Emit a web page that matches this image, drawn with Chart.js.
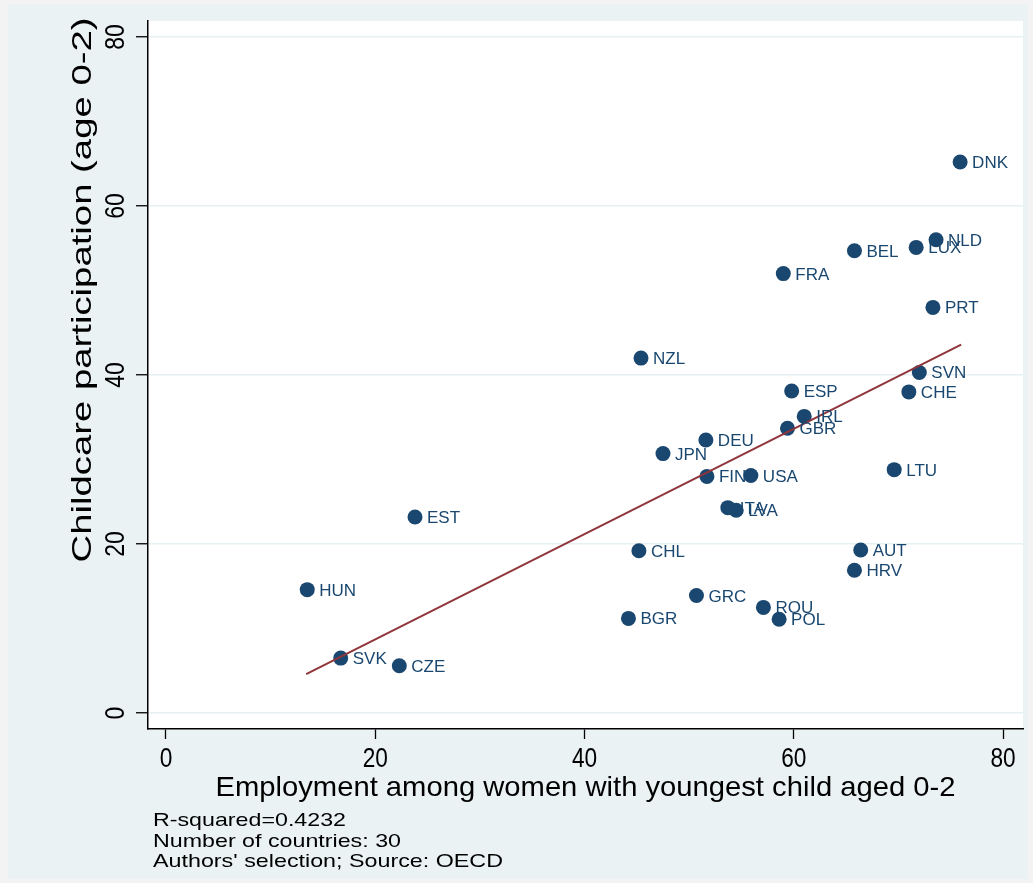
<!DOCTYPE html>
<html>
<head>
<meta charset="utf-8">
<title>Childcare participation vs employment</title>
<script src="https://cdn.jsdelivr.net/npm/chart.js@4.4.1/dist/chart.umd.min.js"></script>
<style>
  html, body { margin: 0; padding: 0; background: #F4F3F3; }
  canvas { display: block; }
</style>
</head>
<body>
<canvas id="scatterChart" width="1033" height="883"></canvas>
<script>
// ---- data ----
const countries = ['DNK', 'NLD', 'LUX', 'BEL', 'FRA', 'PRT', 'NZL', 'SVN', 'ESP', 'CHE',
  'IRL', 'GBR', 'DEU', 'JPN', 'FIN', 'USA', 'LTU', 'ITA', 'LVA', 'EST',
  'CHL', 'AUT', 'HRV', 'HUN', 'GRC', 'ROU', 'BGR', 'POL', 'SVK', 'CZE'];
const employment = [75.9, 73.6, 71.7, 65.8, 59.0, 73.3, 45.4, 72.0, 59.8, 71.0,
  61.0, 59.4, 51.6, 47.5, 51.7, 55.9, 69.6, 53.7, 54.5, 23.8,
  45.2, 66.4, 65.8, 13.5, 50.7, 57.1, 44.2, 58.6, 16.7, 22.3];
const childcare = [65.2, 56.0, 55.1, 54.7, 52.0, 48.0, 42.0, 40.3, 38.1, 38.0,
  35.1, 33.7, 32.3, 30.7, 28.0, 28.1, 28.8, 24.3, 24.0, 23.2,
  19.2, 19.3, 16.9, 14.6, 13.9, 12.5, 11.2, 11.1, 6.5, 5.6];

// fitted line end points
const fitX = [13.4, 76.0];
const fitY = [4.6, 43.6];

const xTicks = [0, 20, 40, 60, 80];
const yTicks = [0, 20, 40, 60, 80];

const xTitle = 'Employment among women with youngest child aged 0-2';
const yTitle = 'Childcare participation (age 0-2)';
const notes = ['R-squared=0.4232', 'Number of countries: 30', "Authors' selection; Source: OECD"];

const NAVY = '#1A476F';
const MAROON = '#90353B';
const FONT = '"Liberation Sans", Arial, sans-serif';

// draw text squeezed / stretched to a given width
function fitText(ctx, str, x, y, size, width, align) {
  ctx.save();
  ctx.font = size + 'px ' + FONT;
  const w = ctx.measureText(str).width;
  const k = width / w;
  ctx.translate(x, y);
  ctx.scale(k, 1);
  ctx.textAlign = align || 'left';
  ctx.fillText(str, 0, 0);
  ctx.restore();
}

function scaledText(ctx, str, x, y, size, k, align) {
  ctx.save();
  ctx.font = size + 'px ' + FONT;
  ctx.translate(x, y);
  ctx.scale(k, 1);
  ctx.textAlign = align || 'left';
  ctx.fillText(str, 0, 0);
  ctx.restore();
}

// backgrounds: outer frame, graph region, white plot region
const backgroundPlugin = {
  id: 'stataBackground',
  beforeDraw(chart) {
    const ctx = chart.ctx;
    const a = chart.chartArea;
    ctx.save();
    ctx.fillStyle = '#F4F3F3';
    ctx.fillRect(0, 0, chart.width, chart.height);
    ctx.fillStyle = '#EAF2F3';
    ctx.fillRect(8, 4, 1020, 875);
    ctx.fillStyle = '#FFFFFF';
    ctx.fillRect(a.left, a.top, a.right - a.left, a.bottom - a.top);
    ctx.restore();
  }
};

// country labels, tick labels, titles and notes
const textPlugin = {
  id: 'stataText',
  afterDatasetsDraw(chart) {
    const ctx = chart.ctx;
    const meta = chart.getDatasetMeta(1);
    ctx.save();
    ctx.fillStyle = NAVY;
    ctx.font = '17px ' + FONT;
    ctx.textBaseline = 'alphabetic';
    meta.data.forEach((pt, i) => {
      ctx.fillText(countries[i], pt.x + 12, pt.y + 6);
    });
    ctx.restore();
  },
  afterDraw(chart) {
    const ctx = chart.ctx;
    const xs = chart.scales.x;
    const ys = chart.scales.y;
    ctx.save();
    ctx.fillStyle = '#000000';
    ctx.textBaseline = 'alphabetic';

    // x tick labels
    xTicks.forEach(v => {
      scaledText(ctx, String(v), xs.getPixelForValue(v), 767, 27, 0.84, 'center');
    });

    // y tick labels, rotated to read upwards
    yTicks.forEach(v => {
      ctx.save();
      ctx.translate(124, ys.getPixelForValue(v));
      ctx.rotate(-Math.PI / 2);
      scaledText(ctx, String(v), 0, 0, 28, 0.82, 'center');
      ctx.restore();
    });

    // axis titles
    const midX = (chart.chartArea.left + chart.chartArea.right) / 2;
    fitText(ctx, xTitle, midX, 796, 28, 740, 'center');

    ctx.save();
    ctx.translate(91, 290);
    ctx.rotate(-Math.PI / 2);
    fitText(ctx, yTitle, 0, 0, 28, 545, 'center');
    ctx.restore();

    // notes
    const noteWidths = [193, 248, 350];
    notes.forEach((n, i) => {
      fitText(ctx, n, 153, 826 + i * 20.5, 19, noteWidths[i], 'left');
    });
    ctx.restore();
  }
};

const ctx = document.getElementById('scatterChart');

new Chart(ctx, {
  type: 'scatter',
  data: {
    datasets: [
      {
        type: 'line',
        label: 'Fitted values',
        data: fitX.map((x, i) => ({ x: x, y: fitY[i] })),
        borderColor: MAROON,
        borderWidth: 2,
        pointRadius: 0,
        fill: false,
        order: 0
      },
      {
        label: 'Countries',
        data: employment.map((x, i) => ({ x: x, y: childcare[i] })),
        backgroundColor: NAVY,
        borderColor: NAVY,
        borderWidth: 0,
        pointRadius: 7.5,
        pointHoverRadius: 7.5,
        order: 1
      }
    ]
  },
  options: {
    responsive: false,
    animation: false,
    events: [],
    layout: {
      padding: { left: 8, top: 21, right: 10, bottom: 0 }
    },
    plugins: {
      legend: { display: false },
      tooltip: { enabled: false }
    },
    scales: {
      x: {
        type: 'linear',
        min: -1.72,
        max: 81.91,
        afterBuildTicks: s => { s.ticks = xTicks.map(v => ({ value: v })); },
        afterFit: s => { s.height = 154; },
        ticks: { display: false },
        grid: {
          drawOnChartArea: false,
          drawTicks: true,
          tickLength: 10,
          tickColor: '#000000',
          tickWidth: 1.3
        },
        border: { display: true, color: '#000000', width: 1.5 }
      },
      y: {
        type: 'linear',
        min: -1.89,
        max: 81.89,
        afterBuildTicks: s => { s.ticks = yTicks.map(v => ({ value: v })); },
        afterFit: s => { s.width = 140; },
        ticks: { display: false },
        grid: {
          color: '#E6EFF1',
          lineWidth: 1.5,
          drawTicks: true,
          tickLength: 12,
          tickColor: '#000000',
          tickWidth: 1.3
        },
        border: { display: true, color: '#000000', width: 1.5 }
      }
    }
  },
  plugins: [backgroundPlugin, textPlugin]
});
</script>
</body>
</html>
